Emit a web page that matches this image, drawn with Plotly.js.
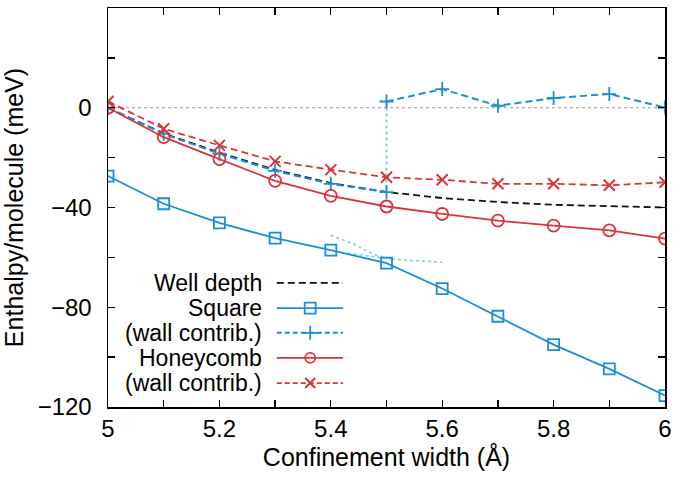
<!DOCTYPE html>
<html>
<head>
<meta charset="utf-8">
<script src="https://cdn.plot.ly/plotly-3.0.1.min.js"></script>
<style>html,body{margin:0;padding:0;background:#fff}#chart{width:675px;height:480px}</style>
</head>
<body>
<div id="chart"></div>
<script>
// ---- data ----
const widths = [5.0, 5.1, 5.2, 5.3, 5.4, 5.5, 5.6, 5.7, 5.8, 5.9, 6.0];
const wellDepth = [0, -10.3, -18.0, -24.9, -30.2, -33.8, -36.2, -37.8, -38.9, -39.6, -40.0];
const square = [-27.4, -38.5, -46.2, -52.3, -57.1, -62.3, -72.5, -83.6, -95.0, -104.7, -115.4];
const squareWallLowX = [5.0, 5.1, 5.2, 5.3, 5.4, 5.5];
const squareWallLow = [0, -10.5, -18.4, -25.3, -30.5, -33.8];
const squareWallHighX = [5.5, 5.6, 5.7, 5.8, 5.9, 6.0];
const squareWallHigh = [2.5, 7.5, 0.8, 3.9, 5.5, 0.1];
const honeycomb = [0, -11.8, -20.6, -29.3, -35.3, -39.6, -42.6, -45.3, -47.3, -49.2, -52.5];
const honeycombWall = [2.5, -8.4, -15.1, -21.5, -24.8, -27.9, -28.9, -30.5, -30.5, -31.1, -29.9];
// dotted guide curves near the square-lattice kink
const fitAX = [5.40, 5.42, 5.44, 5.46, 5.48, 5.51, 5.54, 5.60];
const fitAY = [-51.1, -52.8, -54.5, -56.8, -59.0, -60.7, -61.2, -61.9];
const fitBX = [5.43, 5.45, 5.48, 5.51];
const fitBY = [-58.3, -58.9, -59.8, -60.7];
// vertical connector between the two branches of the square wall contribution
const jumpX = [5.5, 5.5];
const jumpY = [2.5, -33.8];
// axis ticks
const xTickVals = [5.0, 5.1, 5.2, 5.3, 5.4, 5.5, 5.6, 5.7, 5.8, 5.9, 6.0];
const xTickText = ['5', '', '5.2', '', '5.4', '', '5.6', '', '5.8', '', '6'];
const yTickVals = [40, 20, 0, -20, -40, -60, -80, -100, -120];
const yTickText = ['40', '', '0', '', '\u221240', '', '\u221280', '', '\u2212120'];
// legend labels
const legendLabels = ['Well depth', 'Square', '(wall contrib.)', 'Honeycomb', '(wall contrib.)'];

// ---- styling ----
const BLUE = '#1c8ed3';
const RED = '#d9353b';
const LBLUE = '#86c9ef';
const FONT = 'Liberation Sans, Arial, sans-serif';
const FS = 24;
const FL = 23;
const FT = 25;
const DASH = '7px,4px';

const traces = [];
traces.push({x: fitAX, y: fitAY, mode: 'lines', line: {color: LBLUE, width: 1.6, dash: 'dot'}, hoverinfo: 'skip'});
traces.push({x: fitBX, y: fitBY, mode: 'lines', line: {color: LBLUE, width: 1.6, dash: 'dot'}, hoverinfo: 'skip'});
traces.push({x: jumpX, y: jumpY, mode: 'lines', line: {color: LBLUE, width: 2, dash: 'dot'}, hoverinfo: 'skip'});
traces.push({x: widths, y: wellDepth, mode: 'lines', line: {color: '#111', width: 1.8, dash: DASH}});
traces.push({x: widths, y: square, mode: 'lines+markers', line: {color: BLUE, width: 1.8},
  marker: {symbol: 'square-open', size: 11, color: BLUE, line: {width: 1.8, color: BLUE}}});
const plusMarker = {symbol: 'cross-thin-open', size: 10, color: BLUE, line: {width: 1.8, color: BLUE}};
traces.push({x: squareWallLowX, y: squareWallLow, mode: 'lines+markers', line: {color: BLUE, width: 2, dash: DASH}, marker: plusMarker});
traces.push({x: squareWallHighX, y: squareWallHigh, mode: 'lines+markers', line: {color: BLUE, width: 2, dash: DASH}, marker: plusMarker});
traces.push({x: widths, y: honeycomb, mode: 'lines+markers', line: {color: RED, width: 1.8},
  marker: {symbol: 'circle-open', size: 12, color: RED, line: {width: 1.8, color: RED}}});
traces.push({x: widths, y: honeycombWall, mode: 'lines+markers', line: {color: RED, width: 1.8, dash: DASH},
  marker: {symbol: 'x-thin-open', size: 11, color: RED, line: {width: 2, color: RED}}});

// ---- custom gnuplot-style legend (text right, sample to the right) on an overlay axis ----
const legRowY = [0.311, 0.248, 0.186, 0.123, 0.060];
const legLineX = [0.303, 0.422];
const legMarkX = 0.363;
const legStyles = [
  {line: {color: '#111', width: 1.8, dash: DASH}, marker: null},
  {line: {color: BLUE, width: 1.8}, marker: {symbol: 'square-open', size: 11, color: BLUE, line: {width: 1.8, color: BLUE}}},
  {line: {color: BLUE, width: 2, dash: '5px,3px'}, marker: plusMarker},
  {line: {color: RED, width: 1.8}, marker: {symbol: 'circle-open', size: 10, color: RED, line: {width: 1.8, color: RED}}},
  {line: {color: RED, width: 1.8, dash: '5px,3px'}, marker: {symbol: 'x-thin-open', size: 10, color: RED, line: {width: 2, color: RED}}}
];
legStyles.forEach((s, i) => {
  traces.push({x: legLineX, y: [legRowY[i], legRowY[i]], xaxis: 'x2', yaxis: 'y2', mode: 'lines', line: s.line, hoverinfo: 'skip'});
  if (s.marker) traces.push({x: [legMarkX], y: [legRowY[i]], xaxis: 'x2', yaxis: 'y2', mode: 'markers', marker: s.marker, hoverinfo: 'skip'});
});

const annotations = legendLabels.map((t, i) => ({
  text: t, xref: 'paper', yref: 'paper', x: 0.279, y: legRowY[i], xanchor: 'right', yanchor: 'middle',
  borderpad: 0, showarrow: false, font: {family: FONT, size: FL, color: '#000'}
}));

const axisCommon = {
  showline: true, linecolor: '#000', linewidth: 1.5, mirror: 'ticks', ticks: 'inside', ticklen: 7,
  tickwidth: 1.3, tickcolor: '#000', showgrid: false, zeroline: false,
  tickfont: {family: FONT, size: FS, color: '#000'}, tickmode: 'array'
};

const layout = {
  width: 675, height: 480,
  margin: {l: 108, r: 10, t: 8, b: 73},
  paper_bgcolor: '#fff', plot_bgcolor: '#fff',
  showlegend: false,
  xaxis: Object.assign({}, axisCommon, {range: [5, 6], tickvals: xTickVals, ticktext: xTickText, ticklabelstandoff: 0,
    title: {text: 'Confinement width (Å)', font: {family: FONT, size: FT, color: '#000'}, standoff: 6}}),
  yaxis: Object.assign({}, axisCommon, {range: [-120, 40], tickvals: yTickVals, ticktext: yTickText, ticklabelstandoff: 10,
    title: {text: 'Enthalpy/molecule (meV)', font: {family: FONT, size: FT, color: '#000'}, standoff: 13}}),
  xaxis2: {overlaying: 'x', range: [0, 1], visible: false, fixedrange: true},
  yaxis2: {overlaying: 'y', range: [0, 1], visible: false, fixedrange: true},
  shapes: [{type: 'line', xref: 'x', yref: 'y', x0: xTickVals[0], x1: xTickVals[xTickVals.length - 1], y0: 0, y1: 0,
    line: {color: '#999', width: 1, dash: 'dot'}, layer: 'below'}],
  annotations: annotations
};

Plotly.newPlot('chart', traces, layout, {staticPlot: true, displayModeBar: false});
</script>
</body>
</html>
